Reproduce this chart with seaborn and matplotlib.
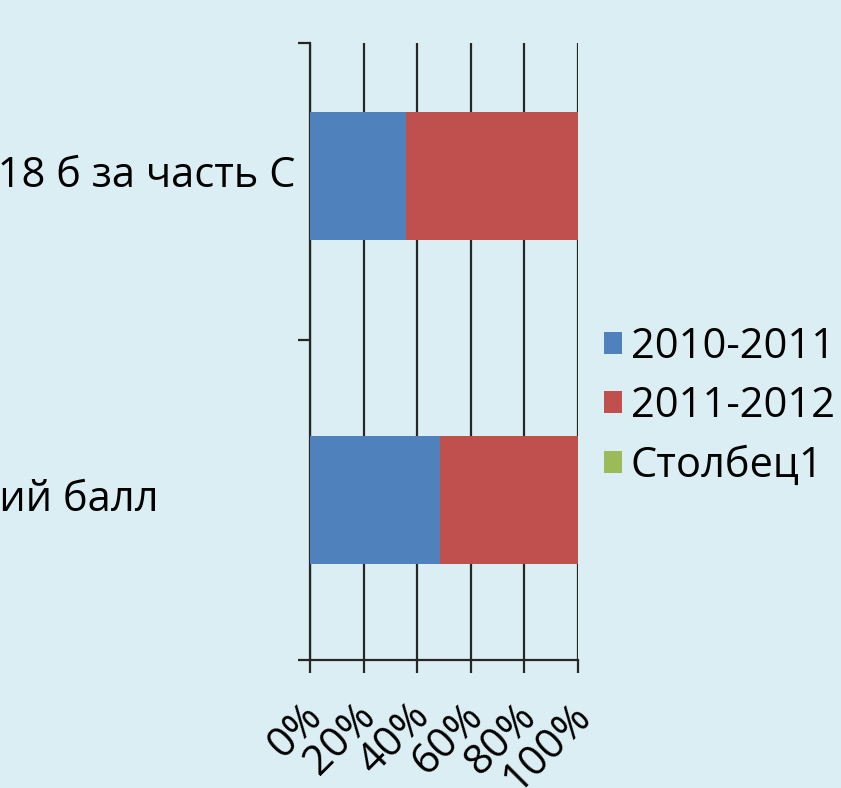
import numpy as np
import pandas as pd
import matplotlib
matplotlib.use('Agg')
import matplotlib.pyplot as plt
import matplotlib.transforms as mtrans
import seaborn as sns
from matplotlib.patches import Patch

# dados (participação %)
categorias = ['Количество набравших 18 б за часть С', 'Средний балл']
serie_2010 = [36.0, 48.5]
serie_2011 = [64.0, 51.5]
serie_col1 = [0.0, 0.0]
nomes_series = ['2010-2011', '2011-2012', 'Столбец1']
xticks_txt = ['0%', '20%', '40%', '60%', '80%', '100%']

cores = ['#4F81BD', '#C0504D', '#9BBB59']
fundo = '#DBEEF4'
linha = '#262626'

df = pd.DataFrame({'cat': categorias, 'a': serie_2010, 'b': serie_2011, 'c': serie_col1})
total = df[['a', 'b', 'c']].sum(axis=1)
df['p_a'] = df['a'] / total * 100
df['p_ab'] = (df['a'] + df['b']) / total * 100
df['p_abc'] = (df['a'] + df['b'] + df['c']) / total * 100

sns.set_style('white')
plt.rcParams['font.family'] = ['Open Sans', 'DejaVu Sans']
plt.rcParams['text.color'] = 'black'
plt.rcParams['xtick.color'] = 'black'
plt.rcParams['ytick.color'] = 'black'

fig = plt.figure(figsize=(8.41, 7.88), dpi=100, facecolor=fundo)
ax = fig.add_axes([310 / 841, 1 - 660 / 788, 268 / 841, 617 / 788])
ax.set_facecolor(fundo)

# barras empilhadas: desenhar do total para o início
sns.barplot(data=df, x='p_abc', y='cat', color=cores[2], width=0.395, saturation=1, ax=ax, zorder=3)
sns.barplot(data=df, x='p_ab', y='cat', color=cores[1], width=0.395, saturation=1, ax=ax, zorder=3)
sns.barplot(data=df, x='p_a', y='cat', color=cores[0], width=0.395, saturation=1, ax=ax, zorder=3)
for p in ax.patches:
    p.set_linewidth(0)

ax.set_xlim(0, 100)
ax.set_ylim(1.494, -0.41)
ax.set_xlabel('')
ax.set_ylabel('')

# grade vertical
ax.set_xticks([0, 20, 40, 60, 80, 100])
ax.set_xticklabels(xticks_txt, rotation=45, ha='right', va='center',
                   rotation_mode='anchor', fontsize=30, color='black')
ax.grid(axis='x', color=linha, linewidth=1.6, zorder=0)
ax.set_axisbelow(True)

ax.set_yticks([-0.41, 0.506, 1.494])
ax.set_yticklabels([])
ax.tick_params(axis='both', which='major', direction='out', length=9, width=1.6,
               color=linha, bottom=True, left=True)
ax.tick_params(axis='x', pad=6)

# deslocar os rótulos do eixo x (depois do tick_params, que reinicia a transformação)
desloc = mtrans.ScaledTranslation(6 / 100, -29 / 100, fig.dpi_scale_trans)
for lbl in ax.get_xticklabels():
    lbl.set_transform(lbl.get_transform() + desloc)

for s in ['top', 'right']:
    ax.spines[s].set_visible(False)
for s in ['left', 'bottom']:
    ax.spines[s].set_color(linha)
    ax.spines[s].set_linewidth(1.6)

# rótulos das categorias (cortados à esquerda, como no original)
ax.text(-15 / 268, 0, categorias[0], transform=ax.get_yaxis_transform(),
        ha='right', va='center', fontsize=30, color='black')
ax.text(-152 / 268, 1, categorias[1], transform=ax.get_yaxis_transform(),
        ha='right', va='center', fontsize=30, color='black')

handles = [Patch(facecolor=c, edgecolor='none') for c in cores]
fig.legend(handles, nomes_series, loc='center left',
           bbox_to_anchor=(604 / 841, 1 - 406 / 788), frameon=False,
           fontsize=30, handlelength=0.44, handleheight=0.44,
           handletextpad=0.2, labelspacing=0.42, borderpad=0,
           borderaxespad=0, labelcolor='black')

fig.savefig('out.png', dpi=100, facecolor=fundo)
